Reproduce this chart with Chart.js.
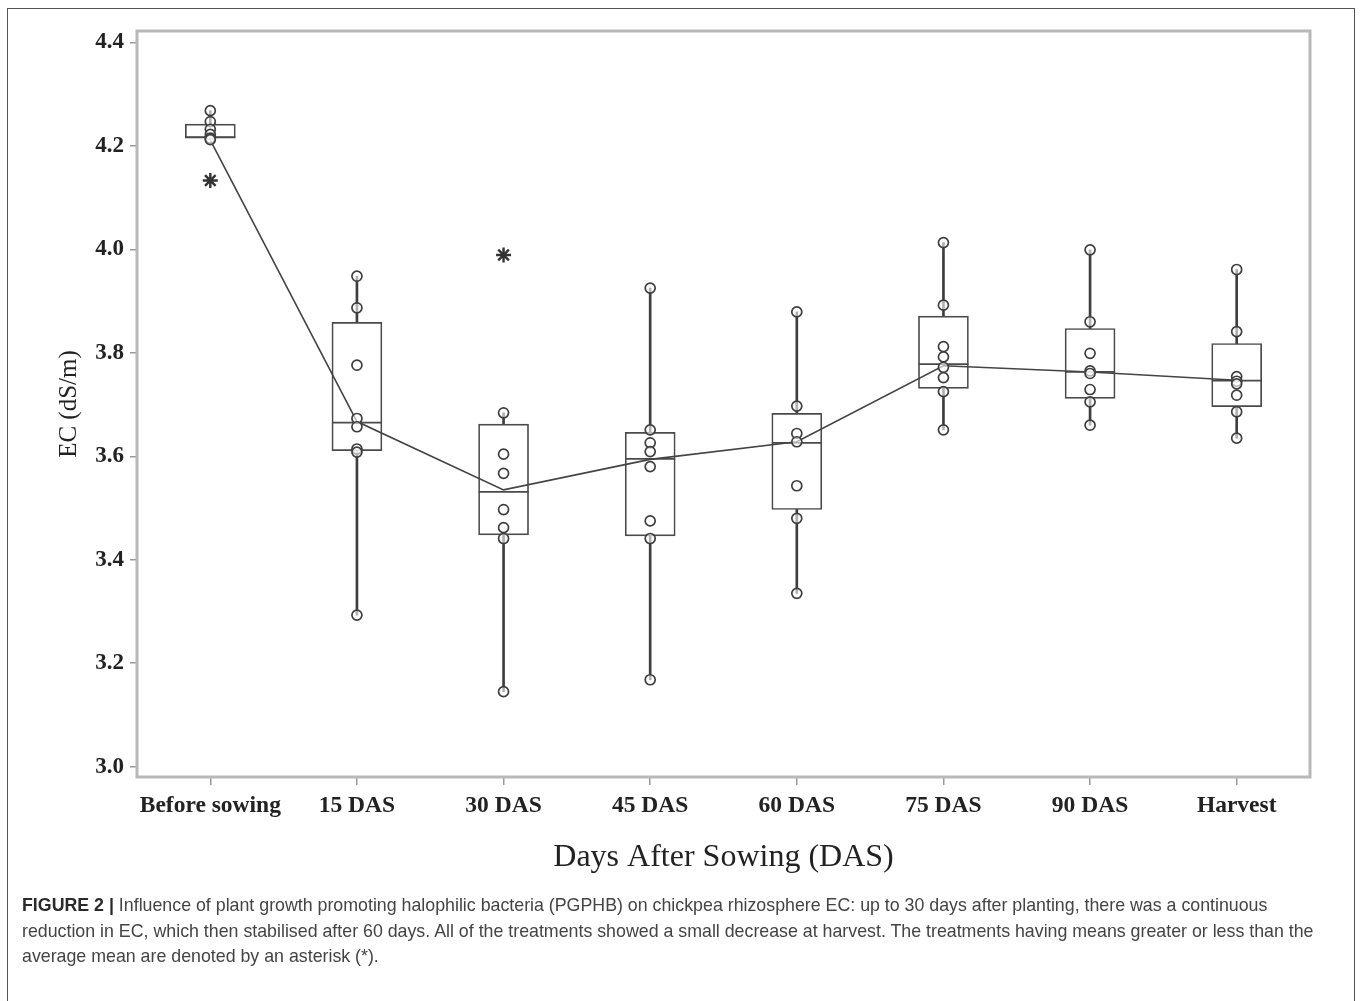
<!DOCTYPE html>
<html>
<head>
<meta charset="utf-8">
<script src="https://cdn.jsdelivr.net/npm/chart.js@4.4.1/dist/chart.umd.min.js"></script>
<style>
  html, body { margin: 0; padding: 0; background: #fff; width: 1360px; height: 1001px; overflow: hidden; }
  #frame { position: absolute; left: 7px; top: 8px; width: 1348px; height: 1100px; border: 1.5px solid #555; box-sizing: border-box; }
  #wrap { position: absolute; left: 0; top: 0; width: 1360px; height: 900px; }
  #caption { position: absolute; left: 22px; top: 893px; font-family: "Liberation Sans", Arial, sans-serif; font-size: 17.8px; line-height: 25.5px; color: #444; white-space: nowrap; }
  #caption b { color: #2a2a2a; }
</style>
</head>
<body>
<div id="frame"></div>
<div id="wrap"><canvas id="c" width="1360" height="900"></canvas></div>
<div id="caption"><b>FIGURE 2 |</b> Influence of plant growth promoting halophilic bacteria (PGPHB) on chickpea rhizosphere EC: up to 30 days after planting, there was a continuous<br>reduction in EC, which then stabilised after 60 days. All of the treatments showed a small decrease at harvest. The treatments having means greater or less than the<br>average mean are denoted by an asterisk (*).</div>
<script>
// ---- data ----
const categories = ['Before sowing', '15 DAS', '30 DAS', '45 DAS', '60 DAS', '75 DAS', '90 DAS', 'Harvest'];
const q1 =      [4.215, 3.611, 3.448, 3.446, 3.497, 3.731, 3.712, 3.696];
const q3 =      [4.242, 3.859, 3.662, 3.646, 3.683, 3.871, 3.847, 3.818];
const medians = [4.217, 3.665, 3.531, 3.595, 3.626, 3.778, 3.763, 3.746];
const whiskerLow =  [4.215, 3.293, 3.145, 3.168, 3.335, 3.651, 3.660, 3.635];
const whiskerHigh = [4.268, 3.948, 3.684, 3.925, 3.879, 4.013, 3.999, 3.961];
const means =   [4.211, 3.667, 3.535, 3.594, 3.628, 3.775, 3.763, 3.747];
const obsBeforeSowing = [4.268, 4.247, 4.232, 4.222, 4.215, 4.212];
const obs15 = [3.948, 3.887, 3.776, 3.673, 3.657, 3.614, 3.608, 3.293];
const obs30 = [3.684, 3.604, 3.567, 3.497, 3.462, 3.441, 3.145];
const obs45 = [3.925, 3.651, 3.626, 3.609, 3.580, 3.475, 3.441, 3.168];
const obs60 = [3.879, 3.697, 3.644, 3.628, 3.543, 3.480, 3.335];
const obs75 = [4.013, 3.892, 3.812, 3.792, 3.772, 3.752, 3.725, 3.651];
const obs90 = [3.999, 3.860, 3.799, 3.765, 3.760, 3.729, 3.705, 3.660];
const obsHarvest = [3.961, 3.841, 3.754, 3.745, 3.740, 3.718, 3.686, 3.635];
const outlierCats = ['Before sowing', '30 DAS'];
const outlierVals = [4.133, 3.989];
const yTicks = [3.0, 3.2, 3.4, 3.6, 3.8, 4.0, 4.2, 4.4];
const yTitle = 'EC (dS/m)';
const xTitle = 'Days After Sowing (DAS)';

const observations = [obsBeforeSowing, obs15, obs30, obs45, obs60, obs75, obs90, obsHarvest];
const pointData = [];
observations.forEach((arr, i) => arr.forEach(v => pointData.push({ x: categories[i], y: v })));
const outlierData = outlierCats.map((c, i) => ({ x: c, y: outlierVals[i] }));
const ink = '#3e3e3e';

const framePlugin = {
  id: 'frame',
  afterDatasetsDraw(chart) {
    const { ctx, chartArea: a } = chart;
    ctx.save();
    ctx.strokeStyle = '#b8b8b8';
    ctx.lineWidth = 3;
    ctx.strokeRect(a.left, a.top, a.right - a.left, a.bottom - a.top);
    ctx.restore();
  }
};

new Chart(document.getElementById('c'), {
  type: 'bar',
  data: {
    labels: categories,
    datasets: [
      { type: 'bar', label: 'whisker', data: whiskerLow.map((v, i) => [v, whiskerHigh[i]]),
        backgroundColor: ink, borderWidth: 0, barThickness: 2, grouped: false, order: 6 },
      { type: 'bar', label: 'box', data: q1.map((v, i) => [v, q3[i]]),
        backgroundColor: '#ffffff', borderColor: '#4a4a4a', borderWidth: 1.7, borderSkipped: false,
        barThickness: 50, grouped: false, order: 5 },
      { type: 'line', label: 'median', data: categories.map((c, i) => ({ x: c, y: medians[i] })),
        showLine: false, pointStyle: 'line', pointRadius: 25, pointHoverRadius: 25,
        borderColor: '#4a4a4a', borderWidth: 1.7, order: 4 },
      { type: 'line', label: 'mean', data: means,
        borderColor: '#444', borderWidth: 1.6, pointRadius: 0, fill: false, tension: 0, order: 3 },
      { type: 'line', label: 'obs', data: pointData, showLine: false,
        pointStyle: 'circle', pointRadius: 5, pointHoverRadius: 5,
        pointBackgroundColor: 'rgba(255,255,255,0.6)', pointBorderColor: ink, pointBorderWidth: 1.7, order: 2 },
      { type: 'line', label: 'outlier', data: outlierData, showLine: false,
        pointStyle: 'star', pointRadius: 7.5, pointHoverRadius: 7.5,
        pointBorderColor: '#333', pointBorderWidth: 2.4, order: 1 }
    ]
  },
  options: {
    responsive: false,
    animation: false,
    devicePixelRatio: 1,
    events: [],
    layout: { padding: { left: 54, top: 31, right: 50, bottom: 23 } },
    plugins: { legend: { display: false }, tooltip: { enabled: false }, title: { display: false } },
    scales: {
      x: {
        type: 'category',
        offset: true,
        grid: { offset: false, drawOnChartArea: false, drawTicks: true, tickLength: 8, color: '#999', lineWidth: 1.5 },
        border: { display: false },
        ticks: { color: '#222', padding: 7, maxRotation: 0, minRotation: 0, autoSkip: false,
          font: { family: '"Liberation Serif", "Times New Roman", serif', size: 23.5, weight: 'bold' } },
        title: { display: true, text: xTitle, color: '#222', padding: { top: 0, bottom: 0 }, font: { family: '"Liberation Serif", "Times New Roman", serif', size: 32 } },
        afterFit(scale) { scale.height = 100; }
      },
      y: {
        type: 'linear',
        min: 2.98,
        max: 4.422,
        grid: { drawOnChartArea: false, drawTicks: true, tickLength: 7, color: '#999', lineWidth: 1.5 },
        border: { display: false },
        afterBuildTicks(scale) { scale.ticks = yTicks.map(v => ({ value: v })); },
        ticks: { color: '#222', padding: 6, callback: v => Number(v).toFixed(1),
          font: { family: '"Liberation Serif", "Times New Roman", serif', size: 23, weight: 'bold' } },
        title: { display: true, text: yTitle, color: '#222', padding: 0, font: { family: '"Liberation Serif", "Times New Roman", serif', size: 25 } },
        afterFit(scale) { scale.width = 83; }
      }
    }
  },
  plugins: [framePlugin]
});
</script>
</body>
</html>
